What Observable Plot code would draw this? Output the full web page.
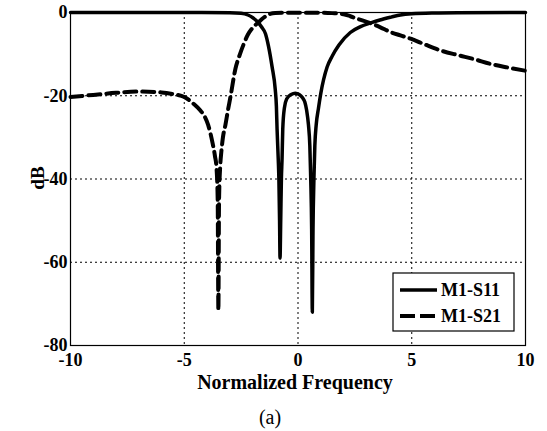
<!DOCTYPE html>
<html>
<head>
<meta charset="utf-8">
<script src="https://cdn.jsdelivr.net/npm/d3@7"></script>
<script src="https://cdn.jsdelivr.net/npm/@observablehq/plot@0.6"></script>
<style>
  html, body { margin: 0; padding: 0; background: white; }
  #chart { width: 547px; height: 431px; }
</style>
</head>
<body>
<div id="chart"></div>
<script>
// Series: M1-S11 (solid)
const s11Freq = [-10, -5, -3, -2.5, -2.2, -2.0, -1.75, -1.6, -1.43, -1.3, -1.14, -1.0, -0.95, -0.92, -0.87, -0.84, -0.81, -0.79, -0.76, -0.73, -0.7, -0.67, -0.6, -0.5, -0.3, -0.12, 0.05, 0.2, 0.3, 0.38, 0.46, 0.52, 0.56, 0.6, 0.63, 0.66, 0.7, 0.74, 0.8, 0.9, 1.0, 1.28, 1.5, 1.8, 2.3, 2.75, 3.2, 3.6, 4.1, 4.5, 5.0, 6, 7, 10];
const s11dB   = [0, 0, -0.05, -0.2, -0.6, -1.2, -2.4, -3.5, -5.1, -8, -13, -18.5, -22.5, -28, -35, -40, -50, -59, -50, -40, -35, -28, -23, -20.8, -19.7, -19.4, -19.7, -20.5, -21.5, -23.5, -27, -32, -40, -52, -72, -52, -40, -32, -27, -23, -19.5, -13.1, -10.5, -7.8, -4.8, -3.4, -2.5, -1.8, -1.1, -0.6, -0.3, -0.1, -0.04, 0];
// Series: M1-S21 (dashed)
const s21Freq = [-10, -9, -8, -7, -6, -5.5, -5, -4.6, -4.3, -4.1, -3.95, -3.85, -3.75, -3.65, -3.58, -3.53, -3.5, -3.47, -3.42, -3.37, -3.3, -3.19, -3.08, -2.97, -2.75, -2.55, -2.38, -2.2, -2.0, -1.75, -1.5, -1.3, -1.0, -0.5, 0, 1, 1.5, 2.0, 2.3, 2.6, 3.2, 3.6, 4.07, 4.5, 4.95, 5.5, 6.26, 7, 7.73, 8.5, 9.2, 10];
const s21dB   = [-20.3, -19.8, -19.3, -19.0, -19.2, -19.6, -20.3, -21.9, -23.5, -25, -27, -29, -31.5, -34.5, -37.5, -45, -71.5, -45, -37, -33.5, -30, -27, -23.5, -20.3, -13.5, -10, -7.5, -5.3, -3.7, -2.4, -1.2, -0.5, -0.1, -0.05, -0.05, -0.05, -0.15, -0.4, -0.9, -1.5, -2.6, -3.5, -4.7, -5.5, -6.3, -7.5, -9.1, -10.2, -11.2, -12.4, -13.2, -14];
// Ticks and labels
const xTicks = [-10, -5, 0, 5, 10];
const yTicks = [-80, -60, -40, -20, 0];
const xGrid = [-5, 0, 5];
const yGrid = [-60, -40, -20];
const seriesNames = ["M1-S11", "M1-S21"];
const xLabel = "Normalized Frequency";
const yLabel = "dB";
const subCaption = "(a)";

const s11 = s11Freq.map((f, i) => ({f, db: s11dB[i]}));
const s21 = s21Freq.map((f, i) => ({f, db: s21dB[i]}));

const font = "'Liberation Serif', 'Times New Roman', serif";
const chart = Plot.plot({
  width: 547,
  height: 431,
  marginLeft: 70,
  marginRight: 22,
  marginTop: 12,
  marginBottom: 86,
  x: {domain: [-10, 10]},
  y: {domain: [-80, 0]},
  style: {fontFamily: font, fontWeight: "bold", fontSize: "18px", background: "white", color: "black", overflow: "visible"},
  marks: [
    Plot.gridX(xGrid, {stroke: "black", strokeOpacity: 1, strokeWidth: 1, strokeDasharray: "2,3"}),
    Plot.gridY(yGrid, {stroke: "black", strokeOpacity: 1, strokeWidth: 1, strokeDasharray: "2,3"}),
    Plot.frame({stroke: "black", strokeWidth: 1.2}),
    Plot.axisX(xTicks, {tickSize: 0, tickPadding: 8, tickFormat: d => String(d), label: null}),
    Plot.axisY(yTicks, {tickSize: 0, tickPadding: 3, tickFormat: d => String(d), label: null}),
    Plot.line(s11, {x: "f", y: "db", stroke: "black", strokeWidth: 3.5, curve: "monotone-x"}),
    Plot.line(s21, {x: "f", y: "db", stroke: "black", strokeWidth: 4, strokeDasharray: "12,6", curve: "monotone-x"})
  ]
});
document.getElementById("chart").appendChild(chart);

const svg = d3.select(chart);
// Axis titles
svg.append("text").attr("x", 295).attr("y", 382).attr("dy", "0.35em")
  .attr("text-anchor", "middle").attr("font-family", font).attr("font-weight", "bold")
  .attr("font-size", 20).text(xLabel);
svg.append("text").attr("transform", "translate(37,178) rotate(-90)").attr("dy", "0.35em")
  .attr("text-anchor", "middle").attr("font-family", font).attr("font-weight", "bold")
  .attr("font-size", 19).text(yLabel);

// Legend
const lg = svg.append("g");
lg.append("rect").attr("x", 393).attr("y", 273).attr("width", 121).attr("height", 58)
  .attr("fill", "white").attr("stroke", "black").attr("stroke-width", 1.2);
const dashes = [null, "15,5"];
seriesNames.forEach((name, i) => {
  const y = 290 + i * 26;
  lg.append("line").attr("x1", 400).attr("x2", 437).attr("y1", y).attr("y2", y)
    .attr("stroke", "black").attr("stroke-width", i ? 4 : 3.5)
    .attr("stroke-dasharray", dashes[i]);
  lg.append("text").attr("x", 441).attr("y", y).attr("dy", "0.35em")
    .attr("text-anchor", "start")
    .attr("font-family", font).attr("font-weight", "bold").attr("font-size", 18)
    .text(name);
});
// Sub-caption
svg.append("text").attr("x", 270).attr("y", 417).attr("dy", "0.35em")
  .attr("text-anchor", "middle").attr("font-family", font).attr("font-weight", "normal")
  .attr("font-size", 20).text(subCaption);
</script>
</body>
</html>
